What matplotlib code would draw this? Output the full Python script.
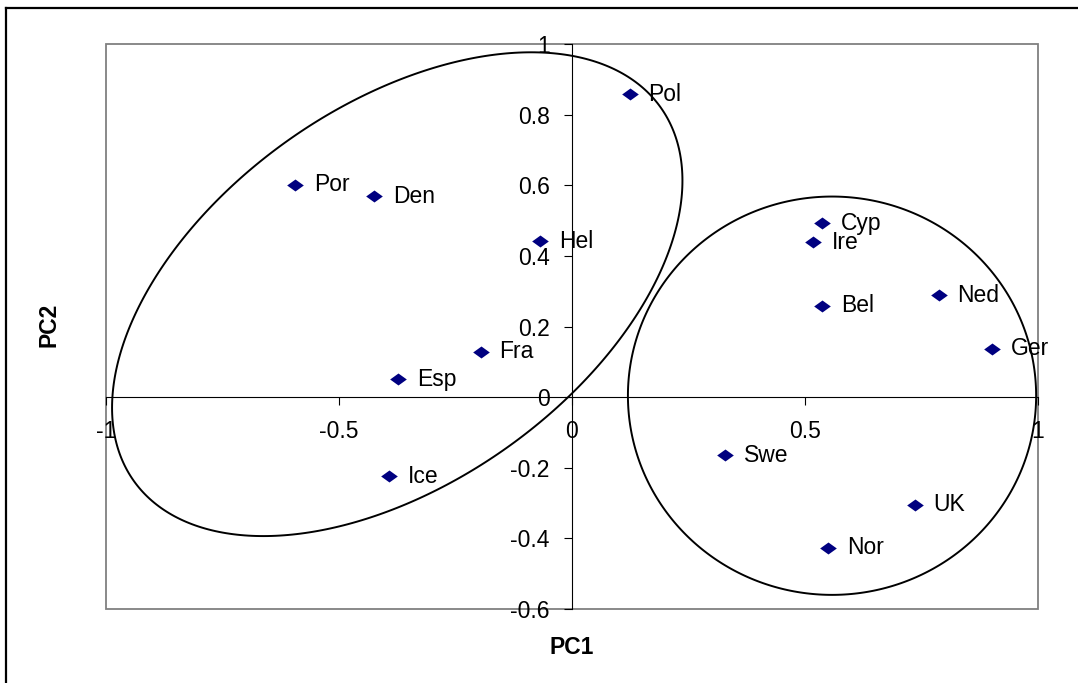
# PCA scores plot (PC1 vs PC2) with two group ellipses
import numpy as np
import matplotlib
matplotlib.use("Agg")
import matplotlib.pyplot as plt
from matplotlib.patches import Rectangle, Polygon
from matplotlib.lines import Line2D

plt.rcParams['font.family'] = ['Liberation Sans', 'DejaVu Sans']

# country codes and their scores
countries = ["Pol", "Por", "Den", "Hel", "Fra", "Esp", "Ice",
             "Cyp", "Ire", "Bel", "Ned", "Ger", "Swe", "UK", "Nor"]
pc1 = [0.124, -0.594, -0.424, -0.068, -0.196, -0.373, -0.392,
       0.537, 0.517, 0.537, 0.787, 0.901, 0.329, 0.735, 0.550]
pc2 = [0.857, 0.602, 0.569, 0.441, 0.128, 0.050, -0.224,
       0.492, 0.439, 0.259, 0.289, 0.137, -0.164, -0.305, -0.427]

x_ticks = [-1, -0.5, 0, 0.5, 1]
y_ticks = [-0.6, -0.4, -0.2, 0, 0.2, 0.4, 0.6, 0.8, 1]

# group ellipses: centre, half-extents along x and y, phase between x and y
left_group = dict(cx=-0.375, cy=0.2915, rx=0.612, ry=0.685, phase=1.082)
right_group = dict(cx=0.558, cy=0.004, rx=0.438, ry=0.564, phase=np.pi / 2)

fs = 16.5

fig = plt.figure(figsize=(10.78, 6.83), dpi=100)
ax = fig.add_axes([106 / 1078, 1 - 609 / 683, 932 / 1078, 565 / 683])

ax.set_xlim(-1, 1)
ax.set_ylim(-0.6, 1)

# axes crossing at zero, like Excel
for side in ["top", "right"]:
    ax.spines[side].set_visible(False)
ax.spines["left"].set_position(("data", 0))
ax.spines["bottom"].set_position(("data", 0))
for side in ["left", "bottom"]:
    ax.spines[side].set_color("black")
    ax.spines[side].set_linewidth(0.8)

ax.set_xticks(x_ticks)
ax.set_xticklabels(["-1", "-0.5", "0", "0.5", "1"])
ax.set_yticks(y_ticks)
ax.set_yticklabels(["-0.6", "-0.4", "-0.2", "0", "0.2", "0.4", "0.6", "0.8", "1"])
ax.tick_params(axis="x", direction="out", length=5.5, width=0.8, pad=11,
               labelsize=fs)
ax.tick_params(axis="y", direction="out", length=5.5, width=0.8, pad=10.5,
               labelsize=fs)

# grey plot-area frame
ax.add_patch(Rectangle((0, 0), 1, 1, transform=ax.transAxes, fill=False,
                       edgecolor="#808080", linewidth=1.3, clip_on=False,
                       zorder=0.5))

# ellipses
t = np.linspace(0, 2 * np.pi, 400, endpoint=False)
for g in [left_group, right_group]:
    ex = g["cx"] + g["rx"] * np.cos(t)
    ey = g["cy"] + g["ry"] * np.cos(t - g["phase"])
    ax.add_patch(Polygon(np.column_stack([ex, ey]), closed=True, fill=False,
                         edgecolor="black", linewidth=1.4, clip_on=False,
                         zorder=2))

# points (Excel diamond, a bit wider than tall)
diamond = [(-1, 0), (0, 0.72), (1, 0), (0, -0.72), (-1, 0)]
ax.plot(pc1, pc2, linestyle="none", marker=diamond, markersize=12,
        color="#000080", markeredgewidth=0, zorder=3)
for name, x, y in zip(countries, pc1, pc2):
    ax.annotate(name, (x, y), xytext=(13.5, 0), textcoords="offset points",
                va="center", ha="left", fontsize=fs, zorder=4)

# axis titles
fig.text(572 / 1078, 1 - 647 / 683, "PC1", ha="center", va="center",
         fontsize=fs, fontweight="bold")
fig.text(49 / 1078, 1 - 325 / 683, "PC2", ha="center", va="center",
         fontsize=fs, fontweight="bold", rotation=90)

# outer chart border (left and top edges visible)
fig.add_artist(Line2D([6 / 1078, 6 / 1078], [0, 1 - 8 / 683],
                      transform=fig.transFigure, color="black", linewidth=1.6))
fig.add_artist(Line2D([6 / 1078, 1], [1 - 8 / 683, 1 - 8 / 683],
                      transform=fig.transFigure, color="black", linewidth=1.6))

fig.savefig("out.png", dpi=100)
